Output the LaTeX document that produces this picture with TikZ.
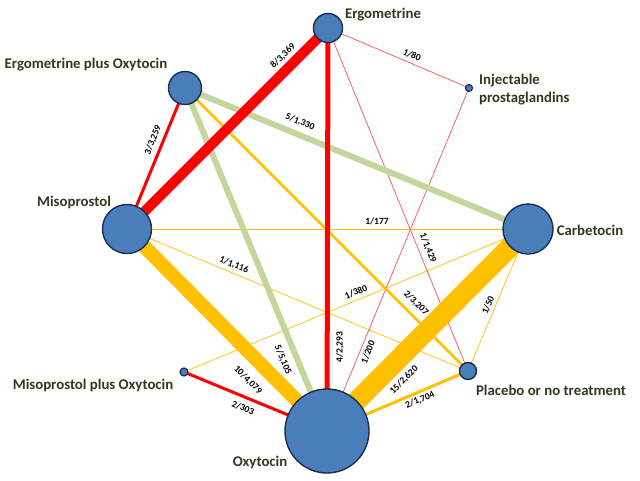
\documentclass[tikz,border=0pt]{standalone}
\usepackage{fontspec}
\setmainfont{Carlito}
\usetikzlibrary{backgrounds}
\definecolor{nodefill}{HTML}{4A7EBB}
\definecolor{nodeedge}{HTML}{1C2E4E}
\definecolor{labtext}{HTML}{2E3B1C}
\definecolor{cred}{HTML}{FF0000}
\definecolor{cthinred}{HTML}{FF5050}
\definecolor{corange}{HTML}{FFC000}
\definecolor{cgreen}{HTML}{C3D69B}
\tikzset{
  trt/.style={circle, fill=nodefill, draw=nodeedge, line width=1.4pt, inner sep=0pt, minimum size=#1},
  tlab/.style={text=labtext, font=\fontsize{14.8}{18}\selectfont\bfseries, inner sep=0pt},
  elab/.style={font=\fontsize{9.5}{11}\selectfont\bfseries, inner sep=0pt, text=black},
  redline/.style={draw=cred, line width=#1},
  thinred/.style={draw=cthinred, line width=0.7pt},
  orline/.style={draw=corange, line width=#1},
  thinor/.style={draw=corange, line width=0.7pt},
  grline/.style={draw=cgreen, line width=#1}
}
\begin{document}
\begin{tikzpicture}[x=1pt,y=-1pt]
\useasboundingbox (0,0) rectangle (640,480);
% treatment nodes
\node[trt=29pt] (ergo) at (328,28) {};
\node[trt=33pt] (epo) at (185,88) {};
\node[trt=7pt, line width=1.2pt] (inj) at (469,88) {};
\node[trt=49pt] (miso) at (127,229) {};
\node[trt=50pt] (carb) at (528,229) {};
\node[trt=8pt, line width=1.2pt] (mpo) at (184,372) {};
\node[trt=17pt] (plac) at (468,371) {};
\node[trt=84pt] (oxy) at (327,431) {};
% treatment labels
\node[tlab] (lergo) at (383,15) {Ergometrine};
\node[tlab] (lepo) at (86,65) {Ergometrine plus Oxytocin};
\node[tlab, anchor=west, align=left] (linj) at (479,90) {Injectable\\prostaglandins};
\node[tlab] (lmiso) at (74,202) {Misoprostol};
\node[tlab] (lcarb) at (590,230) {Carbetocin};
\node[tlab] (lmpo) at (93,385) {Misoprostol plus Oxytocin};
\node[tlab] (lplac) at (551,390) {Placebo or no treatment};
\node[tlab] (loxy) at (260,462) {Oxytocin};
% connectors
\begin{scope}[on background layer]
  \fill[white] (0,0) rectangle (640,480);
  \draw[thinor] (miso.center) -- (carb.center);
  \draw[thinor] (miso.center) -- (plac.center);
  \draw[thinor] (carb.center) -- (mpo.center);
  \draw[thinor] (carb.center) -- (plac.center);
  \draw[thinred] (ergo.center) -- (inj.center);
  \draw[thinred] (ergo.center) -- (plac.center);
  \draw[thinred] (inj.center) -- (oxy.center);
  \draw[orline=2.5pt] (epo.center) -- (plac.center);
  \draw[orline=3pt] (oxy.center) -- (plac.center);
  \draw[redline=3pt] (mpo.center) -- (oxy.center);
  \draw[redline=3pt] (epo.center) -- (miso.center);
  \draw[grline=6pt] (epo.center) -- (carb.center);
  \draw[grline=6pt] (epo.center) -- (oxy.center);
  \draw[redline=5pt] (ergo.center) -- (oxy.center);
  \draw[redline=10pt] (ergo.center) -- (miso.center);
  \draw[orline=14pt] (miso.center) -- (oxy.center);
  \draw[orline=20pt] (carb.center) -- (oxy.center);
\end{scope}
% connector labels
\node[elab, rotate=44] (e1) at (283,56) {8/3,369};
\node[elab, rotate=90] (e2) at (340,347) {4/2,293};
\node[elab, rotate=-23] (e3) at (412,55) {1/80};
\node[elab, rotate=-68] (e4) at (428,248) {1/1,429};
\node[elab, rotate=69] (e5) at (368,352) {1/200};
\node[elab, rotate=68] (e6) at (153,140) {3/3,259};
\node[elab, rotate=-22.4] (e7) at (300,122) {5/1,330};
\node[elab, rotate=-67.5] (e8) at (283,360) {5/5,105};
\node[elab, rotate=-45] (e9) at (416,303) {2/3,207};
\node[elab] (e10) at (377,221) {1/177};
\node[elab, rotate=-22.5] (e11) at (234,265) {1/1,116};
\node[elab, rotate=-45] (e12) at (248,380) {10/4,079};
\node[elab, rotate=22.6] (e13) at (356,292) {1/380};
\node[elab, rotate=45] (e14) at (404,380) {15/2,620};
\node[elab, rotate=68] (e15) at (488,305) {1/50};
\node[elab, rotate=-22] (e16) at (243,408) {2/303};
\node[elab, rotate=23] (e17) at (420,400) {2/1,704};
\end{tikzpicture}
\end{document}
